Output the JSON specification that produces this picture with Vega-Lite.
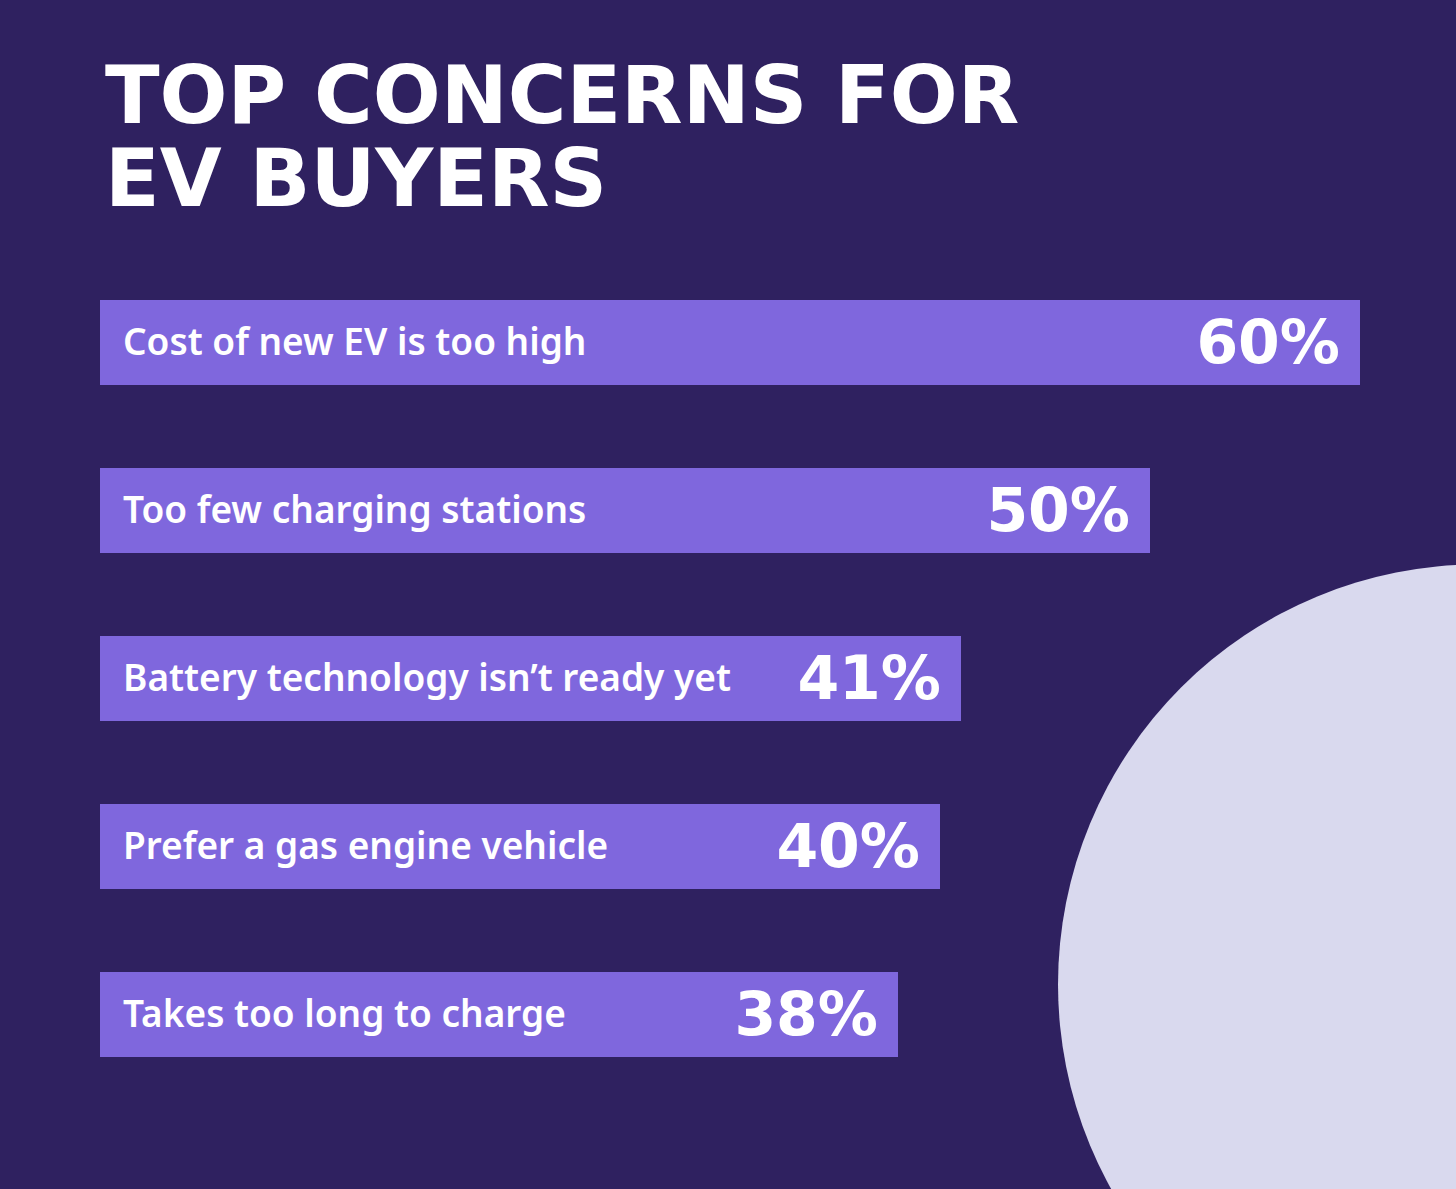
{
  "$schema": "https://vega.github.io/schema/vega-lite/v6.json",
  "autosize": "none",
  "width": 1260,
  "height": 840,
  "padding": {"left": 100, "top": 258.5, "right": 96, "bottom": 90.5},
  "background": "#2F2160",
  "title": {
    "text": ["TOP CONCERNS FOR", "EV BUYERS"],
    "anchor": "start",
    "frame": "group",
    "font": "DejaVu Sans",
    "fontSize": 80,
    "fontWeight": "bold",
    "color": "#FFFFFF",
    "lineHeight": 83,
    "offset": 35.5,
    "dx": 5
  },
  "data": {
    "values": [
      {"concern": "Cost of new EV is too high", "share": 0.60},
      {"concern": "Too few charging stations", "share": 0.50},
      {"concern": "Battery technology isn’t ready yet", "share": 0.41},
      {"concern": "Prefer a gas engine vehicle", "share": 0.40},
      {"concern": "Takes too long to charge", "share": 0.38}
    ]
  },
  "encoding": {
    "y": {
      "field": "concern",
      "type": "nominal",
      "sort": ["Cost of new EV is too high", "Too few charging stations", "Battery technology isn’t ready yet", "Prefer a gas engine vehicle", "Takes too long to charge"],
      "axis": null,
      "scale": {"paddingInner": 0.494, "paddingOuter": 0.247}
    }
  },
  "layer": [
    {
      "transform": [{"filter": "datum.concern === 'Takes too long to charge'"}],
      "mark": {"type": "point", "filled": true, "opacity": 1, "color": "#D9D9EE", "shape": "circle", "yOffset": -30},
      "encoding": {
        "x": {"datum": 0.6562, "type": "quantitative", "axis": null, "scale": {"domain": [0, 0.6], "nice": false}},
        "size": {"value": 705600}
      }
    },
    {
      "mark": {"type": "bar", "color": "#7F67DD"},
      "encoding": {
        "x": {"field": "share", "type": "quantitative", "axis": null, "scale": {"domain": [0, 0.6], "nice": false}}
      }
    },
    {
      "mark": {"type": "text", "align": "left", "baseline": "middle", "dx": 23, "dy": 1, "color": "#FFFFFF", "font": "Noto Sans", "fontSize": 37, "fontWeight": 600},
      "encoding": {
        "x": {"datum": 0, "type": "quantitative", "axis": null, "scale": {"domain": [0, 0.6], "nice": false}},
        "text": {"field": "concern", "type": "nominal"}
      }
    },
    {
      "mark": {"type": "text", "align": "right", "baseline": "middle", "dx": -20, "dy": 2, "color": "#FFFFFF", "font": "DejaVu Sans", "fontSize": 60, "fontWeight": "bold"},
      "encoding": {
        "x": {"field": "share", "type": "quantitative", "axis": null, "scale": {"domain": [0, 0.6], "nice": false}},
        "text": {"field": "share", "type": "quantitative", "format": ".0%"}
      }
    }
  ],
  "config": {"view": {"stroke": null}}
}
